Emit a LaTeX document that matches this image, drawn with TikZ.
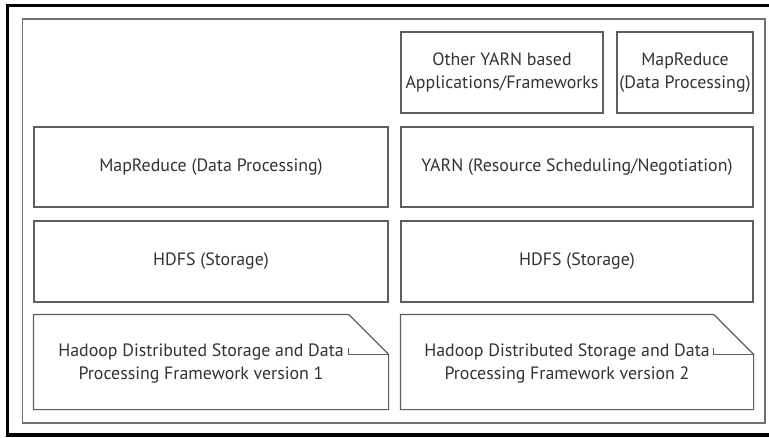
\documentclass[tikz,border=0pt]{standalone}
\usepackage{fontspec}
\setmainfont{PT Sans}
\usetikzlibrary{positioning}
\definecolor{boxgray}{HTML}{5E5E5E}
\definecolor{framegray}{HTML}{707070}
\definecolor{textgray}{HTML}{333333}
\tikzset{
  layer/.style={shape=rectangle, draw=boxgray, line width=0.9pt, inner sep=0pt,
    text=textgray, align=center, font=\fontsize{13.4}{17.2}\selectfont},
  notetext/.style={inner sep=0pt, text=textgray, align=center, font=\fontsize{13.4}{17.2}\selectfont},
}
\begin{document}
\begin{tikzpicture}[x=0.75pt, y=-0.75pt]
        \useasboundingbox (0,0) rectangle (769,437);

        % frames
        \draw[line width=2.6pt] (769,5.3) -- (7.5,5.3) -- (7.5,435) -- (769,435);
        \draw[draw=framegray, line width=0.9pt] (22.5,19) rectangle (765,423);

        % hadoop 2 stack
        \node[layer, minimum width=151.5pt, minimum height=60.75pt] (other) at (502,72.5) {Other YARN based\\Applications/Frameworks};
        \node[layer, minimum width=102pt, minimum height=60.75pt] (mr2) at (685,72.5) {MapReduce\\(Data Processing)};
        \node[layer, minimum width=264pt, minimum height=60pt] (yarn) at (577,167) {YARN (Resource Scheduling/Negotiation)};
        \node[layer, minimum width=264pt, minimum height=60.75pt] (hdfs2) at (577,261.5) {HDFS (Storage)};
        \node[layer, draw=none, minimum width=264pt, minimum height=70.5pt] (hv2) at (577,362) {};

        % hadoop 1 stack
        \node[layer, minimum width=265.5pt, minimum height=60pt] (mr1) at (211,167) {MapReduce (Data Processing)};
        \node[layer, minimum width=265.5pt, minimum height=60.75pt] (hdfs1) at (211,261.5) {HDFS (Storage)};
        \node[layer, draw=none, minimum width=265.5pt, minimum height=70.5pt] (hv1) at (211,362) {};

        % version notes
        \foreach \v in {1,2} {
            \draw[draw=boxgray, line width=0.9pt] (hv\v.south west) -- (hv\v.north west)
                -- ([xshift=-30pt]hv\v.north east) -- ([yshift=-30pt]hv\v.north east)
                -- (hv\v.south east) -- cycle;
            \draw[draw=boxgray, line width=0.9pt] ([yshift=-30pt]hv\v.north east)
                -- ([xshift=-30pt, yshift=-30pt]hv\v.north east)
                -- ([xshift=-30pt, yshift=-25.5pt]hv\v.north east);
            \node[notetext] (hv\v text) at ([xshift=-7.5pt, yshift=-1pt]hv\v.center) {Hadoop Distributed Storage and Data\\Processing Framework version \v};
        }
\end{tikzpicture}
\end{document}
